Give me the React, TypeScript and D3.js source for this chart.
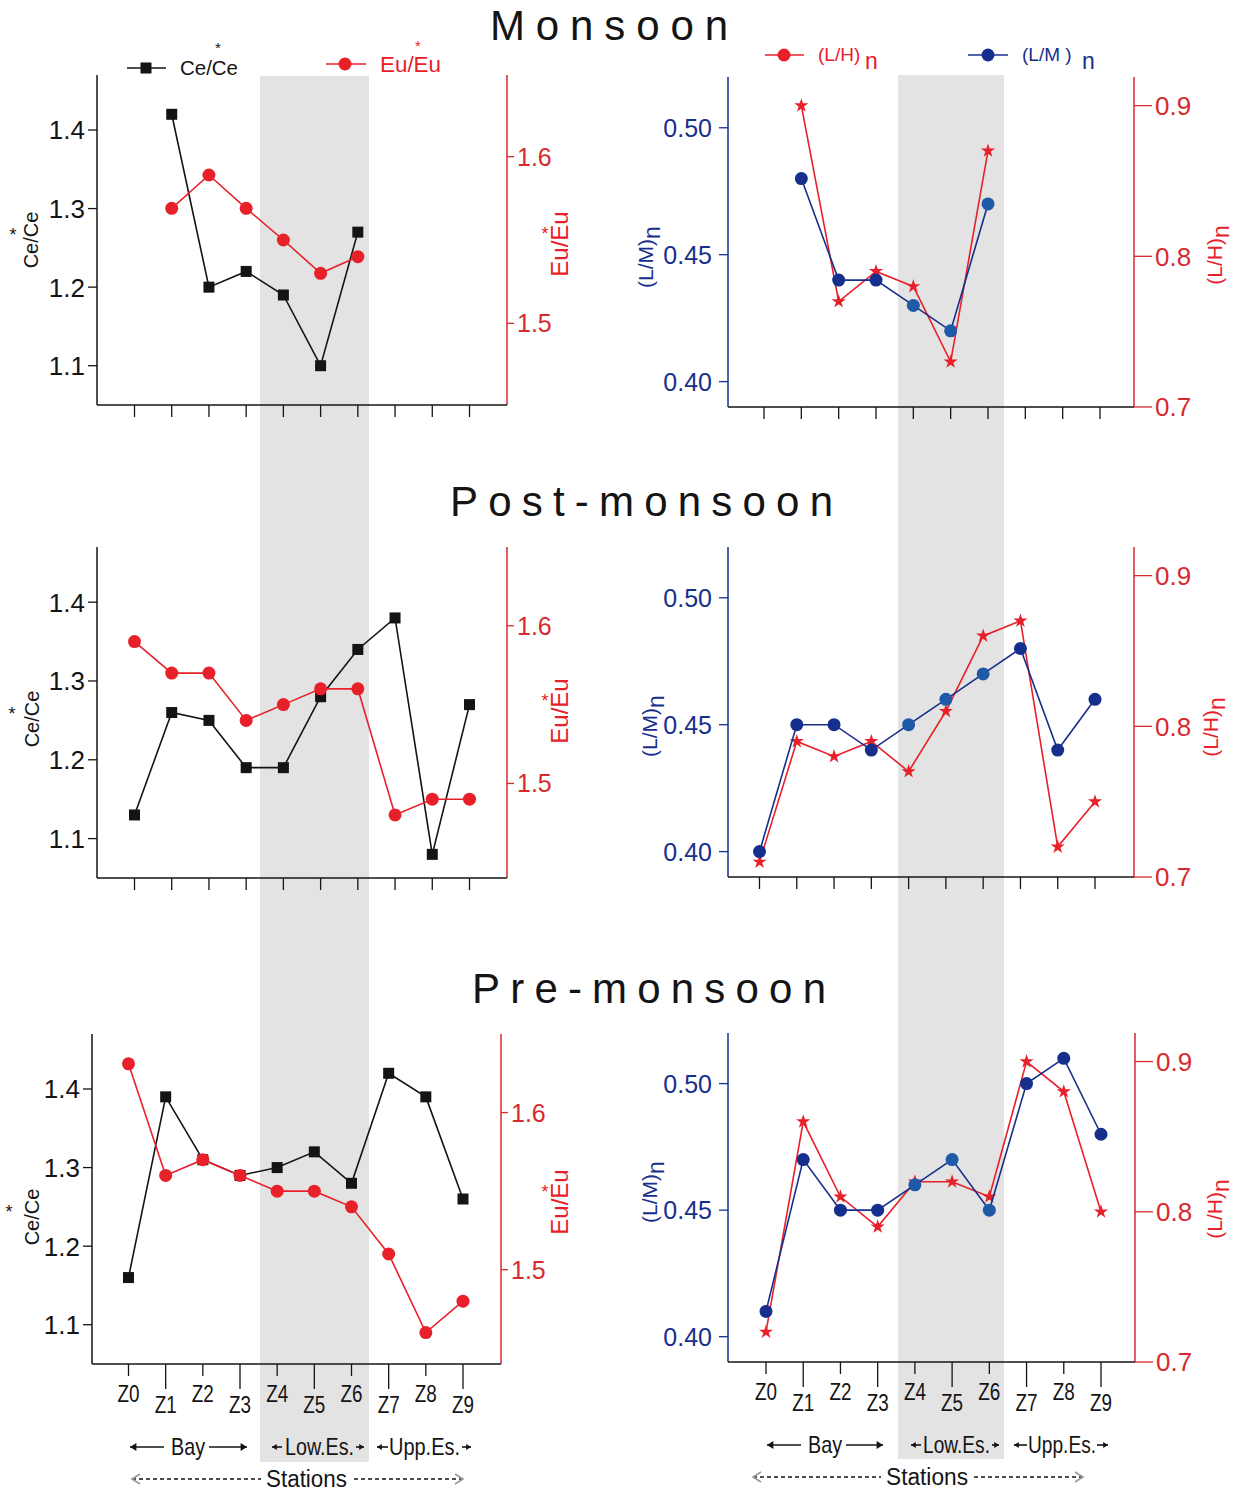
import React from 'react';
import * as d3 from 'd3';

const stations = ['Z0', 'Z1', 'Z2', 'Z3', 'Z4', 'Z5', 'Z6', 'Z7', 'Z8', 'Z9'];
const seasons = ['Monsoon', 'Post-monsoon', 'Pre-monsoon'];
const bandStations = ['Z4', 'Z5', 'Z6'];

// Monsoon (only Z1..Z6 sampled)
const ceMonsoon = [null, 1.42, 1.2, 1.22, 1.19, 1.1, 1.27, null, null, null];
const euMonsoon = [null, 1.569, 1.589, 1.569, 1.55, 1.53, 1.54, null, null, null];
const lmMonsoon = [null, 0.48, 0.44, 0.44, 0.43, 0.42, 0.47, null, null, null];
const lhMonsoon = [null, 0.9, 0.77, 0.79, 0.78, 0.73, 0.87, null, null, null];

// Post-monsoon
const cePost = [1.13, 1.26, 1.25, 1.19, 1.19, 1.28, 1.34, 1.38, 1.08, 1.27];
const euPost = [1.59, 1.57, 1.57, 1.54, 1.55, 1.56, 1.56, 1.48, 1.49, 1.49];
const lmPost = [0.4, 0.45, 0.45, 0.44, 0.45, 0.46, 0.47, 0.48, 0.44, 0.46];
const lhPost = [0.71, 0.79, 0.78, 0.79, 0.77, 0.81, 0.86, 0.87, 0.72, 0.75];

// Pre-monsoon
const cePre = [1.16, 1.39, 1.31, 1.29, 1.3, 1.32, 1.28, 1.42, 1.39, 1.26];
const euPre = [1.631, 1.56, 1.57, 1.56, 1.55, 1.55, 1.54, 1.51, 1.46, 1.48];
const lmPre = [0.41, 0.47, 0.45, 0.45, 0.46, 0.47, 0.45, 0.5, 0.51, 0.48];
const lhPre = [0.72, 0.86, 0.81, 0.79, 0.82, 0.82, 0.81, 0.9, 0.88, 0.8];

const ceTicks = [1.1, 1.2, 1.3, 1.4];
const euTicks = [1.5, 1.6];
const lmTicks = [0.4, 0.45, 0.5];
const lhTicks = [0.7, 0.8, 0.9];

const ceDomain: [number, number] = [1.05, 1.47];
const euDomains: [number, number][] = [[1.451, 1.649], [1.44, 1.65], [1.44, 1.65]];
const lmDomain: [number, number] = [0.39, 0.52];
const lhDomain: [number, number] = [0.7, 0.919];

const ceSeries = [ceMonsoon, cePost, cePre];
const euSeries = [euMonsoon, euPost, euPre];
const lmSeries = [lmMonsoon, lmPost, lmPre];
const lhSeries = [lhMonsoon, lhPost, lhPre];

const FONT = '"Liberation Sans", Arial, sans-serif';
const RED = '#e8202a';
const AXRED = '#d62a2f';
const NAVY = '#172f8c';
const NAVY_LIGHT = '#1f5aa8';
const INK = '#141414';

// layout of panels
const leftFrames = [
  { x0: 97, x1: 507, y0: 75, y1: 405, t0: 134.5, t1: 469.5 },
  { x0: 97, x1: 507, y0: 547, y1: 878, t0: 134.5, t1: 469.5 },
  { x0: 92, x1: 501, y0: 1034, y1: 1364, t0: 128.5, t1: 463 },
];
const rightFrames = [
  { x0: 728, x1: 1134, y0: 77, y1: 407, t0: 764, t1: 1100 },
  { x0: 728, x1: 1134, y0: 547, y1: 877, t0: 759.5, t1: 1095 },
  { x0: 728, x1: 1135, y0: 1033, y1: 1362, t0: 766, t1: 1101 },
];
const titlePos = [
  { x: 490, y: 40, len: 238 },
  { x: 450, y: 516, len: 383 },
  { x: 472, y: 1003, len: 354 },
];
const ceTitle = [{ x: 31, y: 240, sy: 231, sx: 13 }, { x: 32, y: 719, sy: 710, sx: 12 }, { x: 32, y: 1217, sy: 1208, sx: 9 }];
const euTitle = [{ x: 560, y: 244, sy: 230 }, { x: 560, y: 711, sy: 697 }, { x: 560, y: 1202, sy: 1188 }];
const lmTitle = [{ x: 646, y: 257 }, { x: 650, y: 726 }, { x: 650, y: 1192 }];
const lhTitle = [{ x: 1215, y: 255 }, { x: 1211, y: 727 }, { x: 1215, y: 1209 }];

const starPath = d3.symbol(d3.symbolStar, 62)() as string;

function Marker({ type, x, y, color }: any) {
  if (type === 'square') return <rect x={x - 5.5} y={y - 5.5} width={11} height={11} fill={color} />;
  if (type === 'star') return <path d={starPath} transform={`translate(${x},${y})`} fill={color} />;
  return <circle cx={x} cy={y} r={6.5} fill={color} />;
}

function Panel({ f, series, lDomain, rDomain, lTicks, rTicks, lFmt, rFmt, lColor, rColor, rLabelGap, lLabelGap, fsL, fsR, labelled }: any) {
  const x = d3.scalePoint<string>().domain(stations).range([f.t0, f.t1]);
  const yL = d3.scaleLinear().domain(lDomain).range([f.y1, f.y0]);
  const yR = d3.scaleLinear().domain(rDomain).range([f.y1, f.y0]);
  return (
    <g>
      {/* axes */}
      <line x1={f.x0} x2={f.x0} y1={f.y0} y2={f.y1} stroke={lColor} strokeWidth={1.5} />
      <line x1={f.x1} x2={f.x1} y1={f.y0} y2={f.y1} stroke={rColor} strokeWidth={1.5} />
      <line x1={f.x0} x2={f.x1} y1={f.y1} y2={f.y1} stroke={INK} strokeWidth={1.5} />
      {lTicks.map((t: number) => (
        <g key={'l' + t}>
          <line x1={f.x0 - 9} x2={f.x0} y1={yL(t)} y2={yL(t)} stroke={lColor} strokeWidth={1.3} />
          <text x={f.x0 - lLabelGap} y={yL(t)} dy="0.36em" textAnchor="end" fontSize={fsL} fill={lColor}>
            {lFmt(t)}
          </text>
        </g>
      ))}
      {rTicks.map((t: number) => (
        <g key={'r' + t}>
          <line x1={f.x1} x2={f.x1 + rLabelGap - 3} y1={yR(t)} y2={yR(t)} stroke={rColor} strokeWidth={1.3} />
          <text x={f.x1 + rLabelGap} y={yR(t)} dy="0.36em" fontSize={fsR} fill={rColor}>
            {rFmt(t)}
          </text>
        </g>
      ))}
      {stations.map((s, i) => {
        const long = labelled && i % 2 === 1;
        return (
          <g key={s}>
            <line x1={x(s)} x2={x(s)} y1={f.y1} y2={f.y1 + (long ? 25 : 12)} stroke={INK} strokeWidth={1.3} />
            {labelled && (
              <text x={x(s)} y={f.y1 + (long ? 49 : 38)} textAnchor="middle" fontSize={23}
                textLength={22} lengthAdjust="spacingAndGlyphs" fill={INK}>
                {s}
              </text>
            )}
          </g>
        );
      })}
      {/* data */}
      {series.map((sr: any, k: number) => {
        const y = sr.side === 'l' ? yL : yR;
        const line = d3.line<number | null>()
          .defined((d) => d != null)
          .x((d, i) => x(stations[i]) as number)
          .y((d) => y(d as number));
        return (
          <g key={k}>
            <path d={line(sr.values) || ''} fill="none" stroke={sr.color} strokeWidth={1.6} />
            {sr.values.map((v: number | null, i: number) =>
              v == null ? null : (
                <Marker key={i} type={sr.marker} x={x(stations[i])} y={y(v)}
                  color={sr.bandColor && bandStations.includes(stations[i]) ? sr.bandColor : sr.color} />
              ),
            )}
          </g>
        );
      })}
    </g>
  );
}

function Arrow({ x1, x2, y, head, size = 5, color = INK, dashed = false, open = false }: any) {
  const hx = head === 'start' ? x1 : x2;
  const dir = head === 'start' ? 1 : -1;
  const tri = `M${hx},${y} L${hx + dir * size * 1.6},${y - size} L${hx + dir * size * 1.6},${y + size} Z`;
  const chev = `M${hx + dir * size * 1.6},${y - size} L${hx},${y} L${hx + dir * size * 1.6},${y + size}`;
  return (
    <g>
      <line x1={x1} x2={x2} y1={y} y2={y} stroke={color} strokeWidth={1.6} strokeDasharray={dashed ? '4,3' : undefined} />
      {open ? <path d={chev} fill="none" stroke="#999" strokeWidth={1.6} /> : <path d={tri} fill={color} />}
    </g>
  );
}

function Notes({ o, yb, ys }: any) {
  // o: x offsets for one panel's annotation row
  return (
    <g fontSize={24} fill={INK}>
      <Arrow x1={o.bay[0]} x2={o.bay[1]} y={yb - 8} head="start" size={4} />
      <text x={o.bayText[0]} y={yb} textLength={o.bayText[1]} lengthAdjust="spacingAndGlyphs">Bay</text>
      <Arrow x1={o.bay[2]} x2={o.bay[3]} y={yb - 8} head="end" size={4} />
      <Arrow x1={o.low[0]} x2={o.low[1]} y={yb - 8} head="start" size={3} />
      <text x={o.lowText[0]} y={yb} textLength={o.lowText[1]} lengthAdjust="spacingAndGlyphs">Low.Es.</text>
      <Arrow x1={o.low[2]} x2={o.low[3]} y={yb - 8} head="end" size={3} />
      <Arrow x1={o.upp[0]} x2={o.upp[1]} y={yb - 8} head="start" size={3} />
      <text x={o.uppText[0]} y={yb} textLength={o.uppText[1]} lengthAdjust="spacingAndGlyphs">Upp.Es.</text>
      <Arrow x1={o.upp[2]} x2={o.upp[3]} y={yb - 8} head="end" size={3} />
      <Arrow x1={o.st[0]} x2={o.st[1]} y={ys - 8} head="start" size={5} dashed open />
      <text x={o.stText[0]} y={ys} fontSize={23} textLength={o.stText[1]} lengthAdjust="spacingAndGlyphs">Stations</text>
      <Arrow x1={o.st[2]} x2={o.st[3]} y={ys - 8} head="end" size={5} dashed open />
    </g>
  );
}

const leftNotes = {
  bay: [130, 164, 209, 247], bayText: [171, 34],
  low: [272, 282, 356, 364], lowText: [285, 69],
  upp: [377, 388, 462, 471], uppText: [389, 71],
  st: [132, 261, 354, 463], stText: [266, 81],
};
const rightNotes = {
  bay: [767, 801, 846, 883], bayText: [808, 34],
  low: [911, 921, 992, 999], lowText: [923, 67],
  upp: [1014, 1027, 1097, 1108], uppText: [1028, 68],
  st: [753, 881, 974, 1083], stText: [886, 82],
};

function Legend() {
  return (
    <g>
      <line x1={127} x2={166} y1={68} y2={68} stroke={INK} strokeWidth={1.6} />
      <Marker type="square" x={146} y={68} color={INK} />
      <text x={180} y={75} fontSize={21} textLength={58} lengthAdjust="spacingAndGlyphs" fill={INK}>Ce/Ce</text>
      <text x={218} y={53} fontSize={15} textAnchor="middle" fill={INK}>*</text>
      <line x1={326} x2={366} y1={64} y2={64} stroke={RED} strokeWidth={1.6} />
      <Marker type="circle" x={345} y={64} color={RED} />
      <text x={380} y={72} fontSize={22} textLength={61} lengthAdjust="spacingAndGlyphs" fill={RED}>Eu/Eu</text>
      <text x={418} y={51} fontSize={15} textAnchor="middle" fill={RED}>*</text>

      <line x1={765} x2={804} y1={55} y2={55} stroke={RED} strokeWidth={1.6} />
      <Marker type="circle" x={784} y={55} color={RED} />
      <text x={818} y={61} fontSize={19} fill={RED}>(L/H)</text>
      <text x={865} y={69} fontSize={23} fill={RED}>n</text>
      <line x1={968} x2={1008} y1={55} y2={55} stroke={NAVY} strokeWidth={1.6} />
      <Marker type="circle" x={988} y={55} color={NAVY} />
      <text x={1022} y={61} fontSize={19} fill={NAVY}>(L/M )</text>
      <text x={1082} y={69} fontSize={23} fill={NAVY}>n</text>
    </g>
  );
}

function RotTitle({ x, y, color, main, sub, fs }: any) {
  return (
    <text transform={`translate(${x},${y}) rotate(-90)`} textAnchor="middle" fontSize={fs} fill={color} dy="0.35em">
      {main}
      {sub && <tspan dy="0.3em" fontSize={fs + 2}>{sub}</tspan>}
    </text>
  );
}

export default function App() {
  const fmt1 = d3.format('.1f');
  const fmt2 = d3.format('.2f');
  return (
    <svg width={1241} height={1494} style={{ position: 'absolute', left: 0, top: 0, background: '#fff' }}
      fontFamily={FONT}>
      <rect width={1241} height={1494} fill="#fff" />
      {/* shaded lower-estuary band */}
      <rect x={260} y={76} width={109} height={1386} fill="#e3e3e3" />
      <rect x={898} y={75} width={106} height={1384} fill="#e3e3e3" />

      {seasons.map((s, i) => (
        <text key={s} x={titlePos[i].x} y={titlePos[i].y} fontSize={42} textLength={titlePos[i].len}
          lengthAdjust="spacing" fill={INK}>
          {s}
        </text>
      ))}

      {seasons.map((s, i) => (
        <g key={'p' + s}>
          <Panel f={leftFrames[i]} lDomain={ceDomain} rDomain={euDomains[i]} lTicks={ceTicks} rTicks={euTicks}
            lFmt={fmt1} rFmt={fmt1} lColor={INK} rColor={AXRED} lLabelGap={12} rLabelGap={10}
            fsL={26} fsR={25} labelled={i === 2}
            series={[
              { values: ceSeries[i], side: 'l', color: INK, marker: 'square' },
              { values: euSeries[i], side: 'r', color: RED, marker: 'circle' },
            ]} />
          <Panel f={rightFrames[i]} lDomain={lmDomain} rDomain={lhDomain} lTicks={lmTicks} rTicks={lhTicks}
            lFmt={fmt2} rFmt={fmt1} lColor={NAVY} rColor={AXRED} lLabelGap={16} rLabelGap={21}
            fsL={25} fsR={26} labelled={i === 2}
            series={[
              { values: lhSeries[i], side: 'r', color: RED, marker: 'star' },
              { values: lmSeries[i], side: 'l', color: NAVY, marker: 'circle', bandColor: NAVY_LIGHT },
            ]} />
          <RotTitle x={ceTitle[i].x} y={ceTitle[i].y} color={INK} main="Ce/Ce" fs={20} />
          <text x={ceTitle[i].sx} y={ceTitle[i].sy + 10} fontSize={18} textAnchor="middle" fill={INK}>*</text>
          <RotTitle x={euTitle[i].x} y={euTitle[i].y} color={RED} main="Eu/Eu" fs={24} />
          <text x={545} y={euTitle[i].sy + 10} fontSize={18} textAnchor="middle" fill={RED}>*</text>
          <RotTitle x={lmTitle[i].x} y={lmTitle[i].y} color={NAVY} main="(L/M)" sub="n" fs={21} />
          <RotTitle x={lhTitle[i].x} y={lhTitle[i].y} color={RED} main="(L/H)" sub="n" fs={21} />
        </g>
      ))}

      <Legend />
      <Notes o={leftNotes} yb={1455} ys={1487} />
      <Notes o={rightNotes} yb={1453} ys={1485} />
    </svg>
  );
}
